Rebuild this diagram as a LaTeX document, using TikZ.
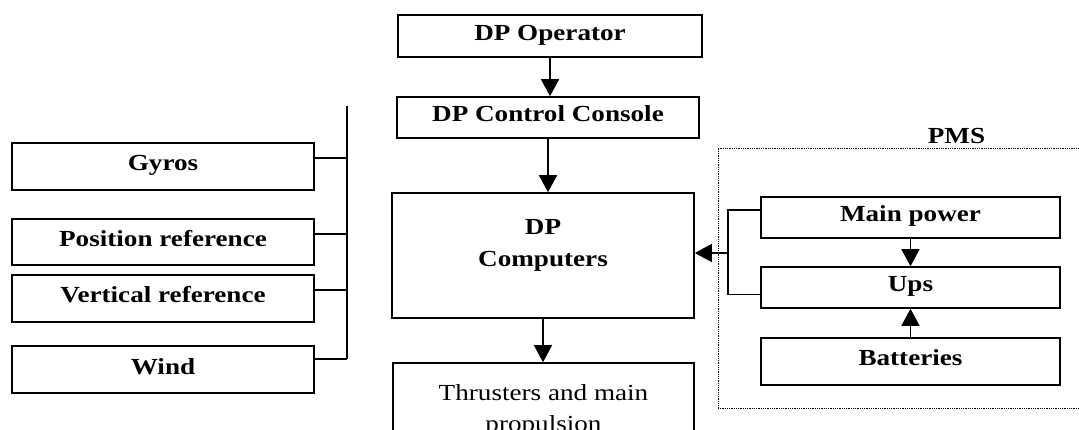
\documentclass[tikz,border=0pt]{standalone}
\usepackage{fontspec}
\setmainfont{Liberation Serif}[FakeStretch=1.18]
\usetikzlibrary{arrows.meta,calc}
\begin{document}
\begin{tikzpicture}[x=1pt,y=-1pt,
  txt/.style={font=\bfseries\fontsize{23}{32}\selectfont},
  box/.style={txt,draw,line width=1.6pt,minimum width=302pt,inner sep=0pt,
              text height=15pt,text depth=6pt},
  lbl/.style={txt,align=center,inner sep=0pt},
  link/.style={line width=1.6pt},
  flow/.style={link,-{Triangle[length=17pt,width=18pt]}},
  pmsbox/.style={draw,line width=0.9pt,dash pattern=on 0.9pt off 0.9pt,inner sep=0pt}
]
\useasboundingbox[fill=white] (0,0) rectangle (1079,430);

% sensor inputs on the left
\node[box,minimum height=47pt] (gyros)   at (163,166.5) {Gyros};
\node[box,minimum height=46pt] (posref)  at (163,242)   {Position reference};
\node[box,minimum height=47pt] (vertref) at (163,298.5) {Vertical reference};
\node[box,minimum height=47pt] (wind)    at (163,369.5) {Wind};

\coordinate (bustop) at (347,106);
\coordinate (sg) at ($(gyros.north east)!0.33!(gyros.south east)$);
\coordinate (sp) at ($(posref.north east)!0.33!(posref.south east)$);
\coordinate (sv) at ($(vertref.north east)!0.33!(vertref.south east)$);
\coordinate (sw) at ($(wind.north east)!0.28!(wind.south east)$);
\draw[link] (bustop) -- (bustop |- sw);
\draw[link] (sg) -- (sg -| bustop);
\draw[link] (sp) -- (sp -| bustop);
\draw[link] (sv) -- (sv -| bustop);
\draw[link] (sw) -- (sw -| bustop);

% main control chain
\node[box,minimum width=304pt,minimum height=42pt] (op)  at (550,36)    {DP Operator};
\node[box,minimum height=41pt]                     (con) at (548,117.5) {DP Control Console};
\node[box,minimum height=125pt]                    (dpc) at (543,255.5) {};
\node[lbl] (dpctext) at (543,245) {DP\\Computers};
\node[box,minimum width=301pt,minimum height=90pt] (thr) at (543.5,408) {};
\node[lbl,font=\mdseries\fontsize{23}{31}\selectfont] (thrtext) at (543.5,410) {Thrusters and main\\propulsion};

\draw[flow] (op.south)  -- (op.south |- con.north);
\draw[flow] (con.south) -- (con.south |- dpc.north);
\draw[flow] (dpc.south) -- (dpc.south |- thr.north);

% power management system
\node[pmsbox,minimum width=377pt,minimum height=260pt] (pms) at (906.5,278) {};
\node[txt,anchor=base,inner sep=0pt] (pmslabel) at (956.5,144) {PMS};

\node[box,minimum width=299pt,minimum height=41pt] (main) at (910.5,217.5) {Main power};
\node[box,minimum width=299pt,minimum height=41pt] (ups)  at (910.5,287.5) {Ups};
\node[box,minimum width=299pt,minimum height=47pt] (bat)  at (910.5,361.5) {Batteries};

\draw[flow] (main) -- (ups);
\draw[flow] (bat)  -- (ups);

\coordinate (sm) at ($(main.north west)!0.32!(main.south west)$);
\coordinate (su) at ($(ups.north west)!0.66!(ups.south west)$);
\coordinate (pbus) at (728,253);
\draw[link] (sm) -- (sm -| pbus) -- (su -| pbus) -- (su);
\draw[flow] (pbus) -- (pbus -| dpc.east);
\end{tikzpicture}
\end{document}
